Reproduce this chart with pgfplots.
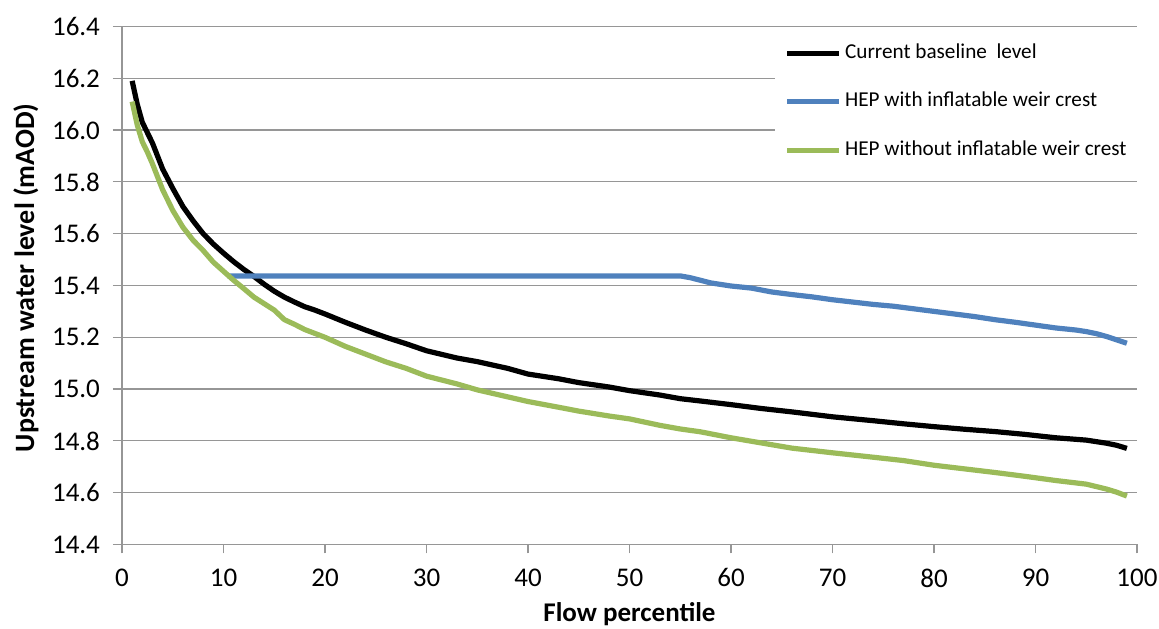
\documentclass[border=0pt]{standalone}
\usepackage{fontspec}
\setmainfont{Carlito}
\usepackage{pgfplots}
\pgfplotsset{compat=1.18}
\definecolor{gridgray}{RGB}{150,150,150}
\definecolor{hepblue}{RGB}{79,129,189}
\definecolor{hepgreen}{RGB}{155,187,89}
\begin{document}
\begin{tikzpicture}
\begin{axis}[
  name=ax,
  width=507.5pt, height=259pt, scale only axis,
  xmin=0, xmax=100, ymin=14.4, ymax=16.4,
  xtick={0,10,...,100},
  ytick={14.4,14.6,14.8,15.0,15.2,15.4,15.6,15.8,16.0,16.2,16.4},
  yticklabel style={/pgf/number format/fixed, /pgf/number format/fixed zerofill, /pgf/number format/precision=1},
  /pgf/number format/assume math mode=true,
  axis lines*=left,
  axis line style={gridgray, line width=0.6pt},
  tick align=outside, major tick length=4.5pt,
  tick style={gridgray, line width=0.6pt},
  ymajorgrids, grid style={gridgray, line width=0.6pt},
  tick label style={font=\fontsize{13.5}{16}\selectfont, black},
  yticklabel style={xshift=-3pt},
  xticklabel style={yshift=-4pt},
  xlabel={Flow percentile},
  ylabel={Upstream water level (mAOD)},
  every axis x label/.style={at={(axis description cs:0.5,0)}, anchor=base, yshift=-38.75pt, font=\bfseries\fontsize{13.5}{16}\selectfont},
  every axis y label/.style={at={(axis description cs:-0.0946,0.515)}, rotate=90, anchor=center, font=\bfseries\fontsize{14}{16}\selectfont},
  legend style={at={(rel axis cs:1,1)}, anchor=north east, draw=none, fill=white,
    font=\fontsize{10.6}{12}\selectfont, inner xsep=5pt, inner ysep=8.25pt,
    row sep=14.25pt, column sep=1.5pt,
    nodes={inner sep=0pt, text height=7.5pt, text depth=2.5pt},
    cells={anchor=west}},
  legend image code/.code={\draw[#1] (0pt,0pt) -- (26pt,0pt);},
]
\addplot[black, line width=2.6pt, line join=round] coordinates {
(1,16.19) (1.5,16.10) (2,16.03) (2.5,15.99) (3,15.95) (3.5,15.90) (4,15.85) (5,15.775) (6,15.705) (7,15.65) (8,15.60) (9,15.56) (10,15.525)
(11,15.492) (12,15.462) (13,15.435) (14,15.405) (15,15.378) (16,15.355) (17,15.336) (18,15.318) (19,15.305) (20,15.29)
(22,15.258) (24,15.228) (26,15.20) (28,15.175) (30,15.148) (33,15.12) (35,15.106) (38,15.08) (40,15.058) (43,15.04)
(45,15.025) (48,15.008) (50,14.994) (53,14.977) (55,14.963) (57,14.954) (60,14.94) (63,14.925) (66,14.912) (70,14.893)
(74,14.878) (77,14.866) (80,14.855) (83,14.845) (86,14.836) (89,14.825) (92,14.812) (95,14.803) (97,14.791) (98,14.783) (99,14.771)
};
\addlegendentry{Current baseline\ \ level}
\addplot[hepblue, line width=2.6pt, line join=round] coordinates {
(10.4,15.437) (55,15.437) (56,15.43) (57,15.42) (58,15.41) (60,15.398) (62,15.39) (64,15.375) (66,15.365) (68,15.356) (70,15.345)
(72,15.336) (74,15.327) (76,15.32) (78,15.31) (80,15.30) (82,15.29) (84,15.28) (86,15.268) (88,15.258) (90,15.247) (92,15.236)
(94,15.228) (95,15.222) (96,15.214) (97,15.203) (98,15.19) (99,15.177)
};
\addlegendentry{HEP with inflatable weir crest}
\addplot[hepgreen, line width=2.6pt, line join=round] coordinates {
(1,16.11) (1.5,16.02) (2,15.955) (2.5,15.915) (3,15.87) (3.5,15.82) (4,15.77) (5,15.69) (6,15.625) (7,15.575) (8,15.535) (9,15.49) (10,15.455)
(11,15.42) (12,15.388) (13,15.355) (14,15.33) (15,15.305) (16,15.268) (17,15.25) (18,15.23) (19,15.215) (20,15.20)
(22,15.165) (24,15.135) (26,15.105) (28,15.08) (30,15.05) (33,15.02) (35,14.997) (38,14.97) (40,14.952) (43,14.93)
(45,14.915) (48,14.896) (50,14.885) (53,14.86) (55,14.846) (57,14.835) (60,14.812) (63,14.792) (66,14.772) (70,14.754)
(74,14.737) (77,14.724) (80,14.706) (83,14.692) (86,14.678) (89,14.663) (92,14.647) (95,14.633) (97,14.614) (98,14.602) (99,14.587)
};
\addlegendentry{HEP without inflatable weir crest}
\end{axis}
\pgfresetboundingbox
\useasboundingbox ([xshift=-61pt,yshift=-42.25pt]ax.south west) rectangle ([xshift=11pt,yshift=13.25pt]ax.north east);
\end{tikzpicture}
\end{document}
